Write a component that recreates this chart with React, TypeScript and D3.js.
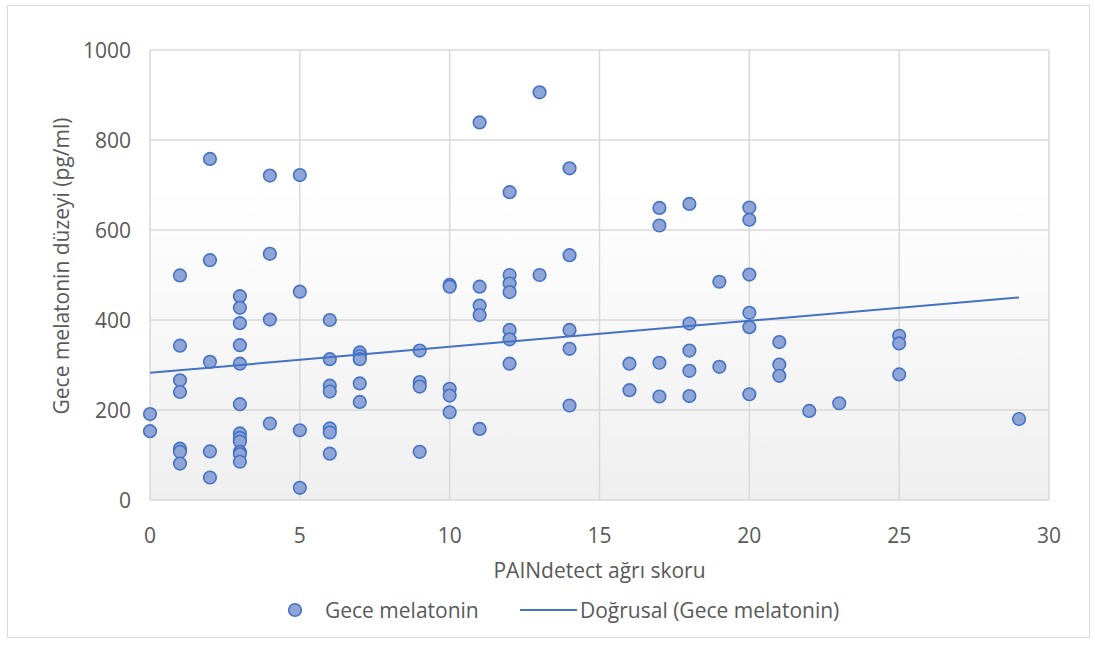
import React, { useEffect, useRef } from "react";
import * as d3 from "d3";

// PAINdetect score (x) and night melatonin pg/ml (y)
const painScores = [
  0, 0,
  1, 1, 1, 1, 1, 1, 1,
  2, 2, 2, 2, 2,
  3, 3, 3, 3, 3, 3, 3, 3, 3, 3, 3, 3,
  4, 4, 4, 4,
  5, 5, 5, 5,
  6, 6, 6, 6, 6, 6, 6,
  7, 7, 7, 7, 7,
  9, 9, 9, 9,
  10, 10, 10, 10, 10,
  11, 11, 11, 11, 11,
  12, 12, 12, 12, 12, 12, 12,
  13, 13,
  14, 14, 14, 14, 14,
  16, 16,
  17, 17, 17, 17,
  18, 18, 18, 18, 18,
  19, 19,
  20, 20, 20, 20, 20, 20,
  21, 21, 21,
  22, 23,
  25, 25, 25,
  29,
];
const melatonin = [
  191, 153,
  499, 343, 266, 240, 114, 107, 81,
  758, 533, 307, 108, 50,
  453, 427, 393, 344, 303, 213, 148, 138, 130, 107, 102, 85,
  721, 547, 401, 170,
  722, 463, 155, 27,
  400, 313, 254, 241, 159, 150, 103,
  328, 320, 313, 259, 218,
  332, 262, 252, 107,
  478, 474, 247, 232, 195,
  839, 474, 432, 411, 158,
  684, 500, 481, 462, 378, 357, 303,
  906, 500,
  737, 544, 378, 336, 210,
  303, 244,
  649, 610, 305, 230,
  658, 392, 332, 287, 231,
  485, 296,
  650, 623, 501, 416, 384, 235,
  351, 301, 276,
  198, 215,
  365, 348, 279,
  180,
];
const xTicks = [0, 5, 10, 15, 20, 25, 30];
const yTicks = [0, 200, 400, 600, 800, 1000];
const seriesName = "Gece melatonin";
const trendName = "Doğrusal (Gece melatonin)";

export default function App() {
  const ref = useRef<SVGSVGElement>(null);

  useEffect(() => {
    const W = 1095, H = 645;
    const margin = { top: 50, right: 46, bottom: 145, left: 150 };
    const w = W - margin.left - margin.right,
      h = H - margin.top - margin.bottom;
    const font = "'Open Sans', sans-serif";
    const fs = 21;
    const txt = "#595959";

    const svg = d3.select(ref.current);
    svg.selectAll("*").remove();

    const defs = svg.append("defs");
    const grad = defs
      .append("linearGradient")
      .attr("id", "plotbg")
      .attr("x1", 0).attr("y1", 0).attr("x2", 0).attr("y2", 1);
    grad.append("stop").attr("offset", "0%").attr("stop-color", "#ffffff");
    grad.append("stop").attr("offset", "30%").attr("stop-color", "#ffffff");
    grad.append("stop").attr("offset", "100%").attr("stop-color", "#efefef");

    // outer chart border
    svg.append("rect")
      .attr("x", 7.5).attr("y", 5.5)
      .attr("width", 1082).attr("height", 632)
      .attr("fill", "#fff")
      .attr("stroke", "#d9d9d9")
      .attr("stroke-width", 1);

    const g = svg.append("g").attr("transform", `translate(${margin.left},${margin.top})`);

    var x = d3.scaleLinear().domain([0, 30]).range([0, w]);
    var y = d3.scaleLinear().domain([0, 1000]).range([h, 0]);

    g.append("rect").attr("width", w).attr("height", h).attr("fill", "url(#plotbg)");

    // grid
    g.selectAll(".vgrid")
      .data(xTicks)
      .join("line")
      .attr("class", "vgrid")
      .attr("x1", (d) => x(d)).attr("x2", (d) => x(d))
      .attr("y1", 0).attr("y2", h)
      .attr("stroke", "#d9d9d9").attr("stroke-width", 1.5);
    g.selectAll(".hgrid")
      .data(yTicks)
      .join("line")
      .attr("class", "hgrid")
      .attr("y1", (d) => y(d)).attr("y2", (d) => y(d))
      .attr("x1", 0).attr("x2", w)
      .attr("stroke", "#d9d9d9").attr("stroke-width", 1.5);

    // tick labels
    g.selectAll(".xt")
      .data(xTicks)
      .join("text")
      .attr("class", "xt")
      .attr("x", (d) => x(d))
      .attr("y", h + 43)
      .attr("text-anchor", "middle")
      .attr("font-family", font).attr("font-size", fs).attr("fill", txt)
      .text((d) => d);
    g.selectAll(".yt")
      .data(yTicks)
      .join("text")
      .attr("class", "yt")
      .attr("x", -19)
      .attr("y", (d) => y(d) + 7.5)
      .attr("text-anchor", "end")
      .attr("font-family", font).attr("font-size", fs).attr("fill", txt)
      .text((d) => d);

    // axis titles
    g.append("text")
      .attr("x", w / 2).attr("y", h + 78)
      .attr("text-anchor", "middle")
      .attr("font-family", font).attr("font-size", fs).attr("fill", txt)
      .text("PAINdetect ağrı skoru");
    g.append("text")
      .attr("transform", `translate(-81,216) rotate(-90)`)
      .attr("text-anchor", "middle")
      .attr("font-family", font).attr("font-size", fs).attr("fill", txt)
      .text("Gece melatonin düzeyi (pg/ml)");

    // linear trend (least squares)
    const n = painScores.length;
    const mx = d3.mean(painScores) as number;
    const my = d3.mean(melatonin) as number;
    let sxy = 0, sxx = 0;
    for (let i = 0; i < n; i++) {
      sxy += (painScores[i] - mx) * (melatonin[i] - my);
      sxx += (painScores[i] - mx) ** 2;
    }
    const slope = sxy / sxx;
    const icpt = my - slope * mx;
    const x0 = d3.min(painScores) as number, x1 = d3.max(painScores) as number;

    const pts = painScores.map((p, i) => ({ p, m: melatonin[i] }));
    g.selectAll(".dot")
      .data(pts)
      .join("circle")
      .attr("class", "dot")
      .attr("cx", (d) => x(d.p))
      .attr("cy", (d) => y(d.m))
      .attr("r", 6.3)
      .attr("fill", "#8FA5D8")
      .attr("stroke", "#4472C4")
      .attr("stroke-width", 1.6);

    g.append("path")
      .datum([x0, x1])
      .attr("d", d3.line<number>().x((d) => x(d)).y((d) => y(icpt + slope * d)))
      .attr("stroke", "#4472C4").attr("stroke-width", 2).attr("fill", "none");

    // legend
    const lg = svg.append("g").attr("transform", "translate(0,610)");
    lg.append("circle")
      .attr("cx", 295).attr("cy", 0).attr("r", 6.3)
      .attr("fill", "#8FA5D8").attr("stroke", "#4472C4").attr("stroke-width", 1.6);
    lg.append("text")
      .attr("x", 325).attr("y", 7.5)
      .attr("font-family", font).attr("font-size", fs).attr("fill", txt)
      .text(seriesName);
    lg.append("line")
      .attr("x1", 520).attr("x2", 577).attr("y1", 0).attr("y2", 0)
      .attr("stroke", "#4472C4").attr("stroke-width", 2);
    lg.append("text")
      .attr("x", 580).attr("y", 7.5)
      .attr("font-family", font).attr("font-size", fs).attr("fill", txt)
      .text(trendName);
  }, []);

  return (
    <svg ref={ref} width={1095} height={645} style={{ display: "block", position: "absolute", left: 0, top: 0 }} />
  );
}
